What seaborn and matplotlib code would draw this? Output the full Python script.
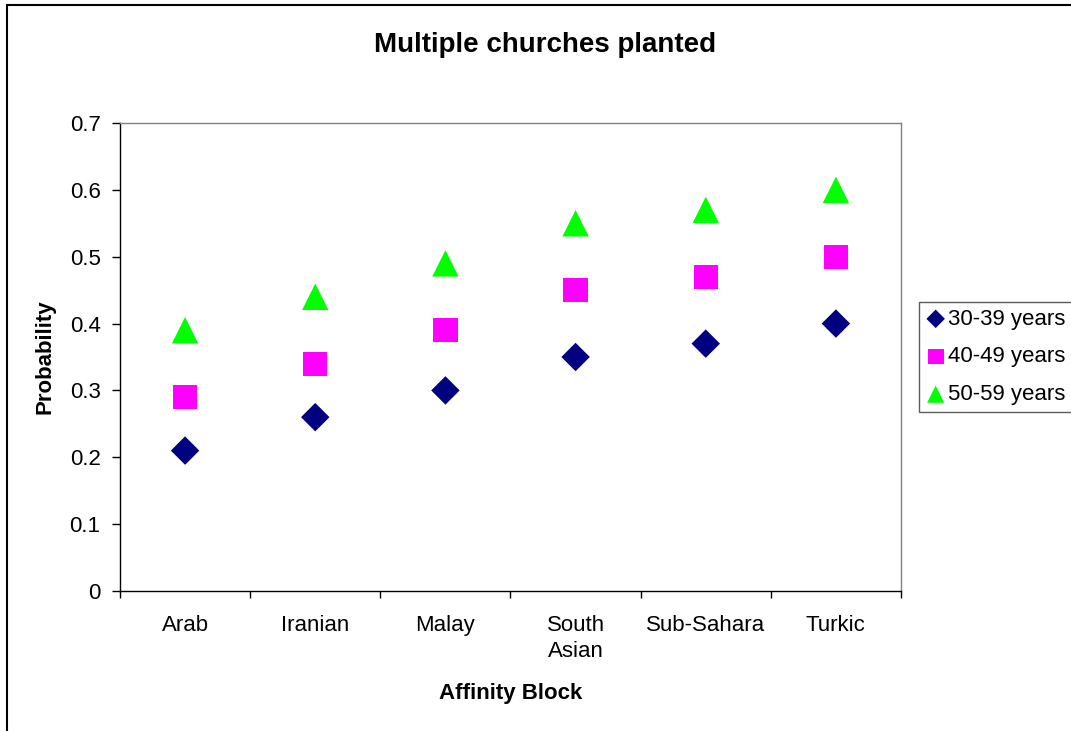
import matplotlib
matplotlib.use("Agg")
import matplotlib.pyplot as plt
import seaborn as sns
import numpy as np
from matplotlib.patches import Rectangle

blocks = ["Arab", "Iranian", "Malay", "South\nAsian", "Sub-Sahara", "Turkic"]
p_30_39 = [0.21, 0.26, 0.30, 0.35, 0.37, 0.40]
p_40_49 = [0.29, 0.34, 0.39, 0.45, 0.47, 0.50]
p_50_59 = [0.39, 0.44, 0.49, 0.55, 0.57, 0.60]
y_ticks = [0, 0.1, 0.2, 0.3, 0.4, 0.5, 0.6, 0.7]
y_tick_labels = ["0", "0.1", "0.2", "0.3", "0.4", "0.5", "0.6", "0.7"]


def ChurchChart():
    sns.set_style("white")
    plt.rcParams["font.family"] = ["Liberation Sans", "DejaVu Sans"]
    plt.rcParams["text.color"] = "black"
    plt.rcParams["axes.labelcolor"] = "black"
    plt.rcParams["xtick.color"] = "black"
    plt.rcParams["ytick.color"] = "black"

    fig = plt.figure(figsize=(10.71, 7.31), dpi=100)
    ax = fig.add_axes([120 / 1071, 140 / 731, 781 / 1071, 468 / 731])

    x = np.arange(len(blocks))
    sns.scatterplot(x=x, y=p_30_39, marker="D", s=14.5 ** 2, color="#000080",
                    edgecolor="none", label="30-39 years", ax=ax)
    sns.scatterplot(x=x, y=p_40_49, marker="s", s=17.5 ** 2, color="#FF00FF",
                    edgecolor="none", label="40-49 years", ax=ax)
    sns.scatterplot(x=x, y=p_50_59, marker="^", s=19 ** 2, color="#00FF00",
                    edgecolor="none", label="50-59 years", ax=ax)

    ax.set_xlim(-0.5, len(blocks) - 0.5)
    ax.set_ylim(0, 0.7)

    # category boundaries get the tick marks, labels sit in the middle
    ax.set_xticks(np.arange(-0.5, len(blocks), 1.0))
    ax.set_xticklabels([])
    ax.set_xticks(x, minor=True)
    ax.set_xticklabels(blocks, minor=True, fontsize=16, linespacing=1.35)
    ax.tick_params(axis="x", which="minor", length=0, pad=17)
    ax.tick_params(axis="x", which="major", length=5, width=1,
                   direction="out", bottom=True)

    ax.set_yticks(y_ticks)
    ax.set_yticklabels(y_tick_labels, fontsize=16)
    ax.tick_params(axis="y", length=6, width=1,
                   direction="out", left=True, pad=8)

    for side in ["top", "right"]:
        ax.spines[side].set_color("#808080")
        ax.spines[side].set_linewidth(1)
    for side in ["left", "bottom"]:
        ax.spines[side].set_color("black")
        ax.spines[side].set_linewidth(1)

    ax.set_xlabel("Affinity Block", fontsize=16, fontweight="bold")
    ax.xaxis.label.set_va("center")
    ax.xaxis.set_label_coords(0.5, (591 - 694) / 468)
    ax.set_ylabel("Probability", fontsize=16, fontweight="bold")
    ax.yaxis.label.set_va("center")
    ax.yaxis.set_label_coords((45 - 120) / 781, 0.5)
    fig.text(545 / 1071, 1 - 45 / 731, "Multiple churches planted",
             fontsize=20, fontweight="bold", ha="center", va="center")

    leg = ax.legend(loc="upper left", bbox_to_anchor=(919 / 1071, 1 - 302 / 731),
                    bbox_transform=fig.transFigure, fontsize=16, frameon=True,
                    fancybox=False, edgecolor="#333333", handletextpad=0.1,
                    handlelength=0.9, borderpad=0.3, labelspacing=0.75,
                    markerscale=0.65, borderaxespad=0)
    leg.get_frame().set_linewidth(1)

    # outer chart border (cut off on right and bottom)
    fig.patches.append(Rectangle((7 / 1071, -0.05), 1.2, 1 - 5 / 731 + 0.05,
                                 transform=fig.transFigure, fill=False,
                                 edgecolor="black", linewidth=1.5))

    fig.savefig("out.png", dpi=100)


ChurchChart()
